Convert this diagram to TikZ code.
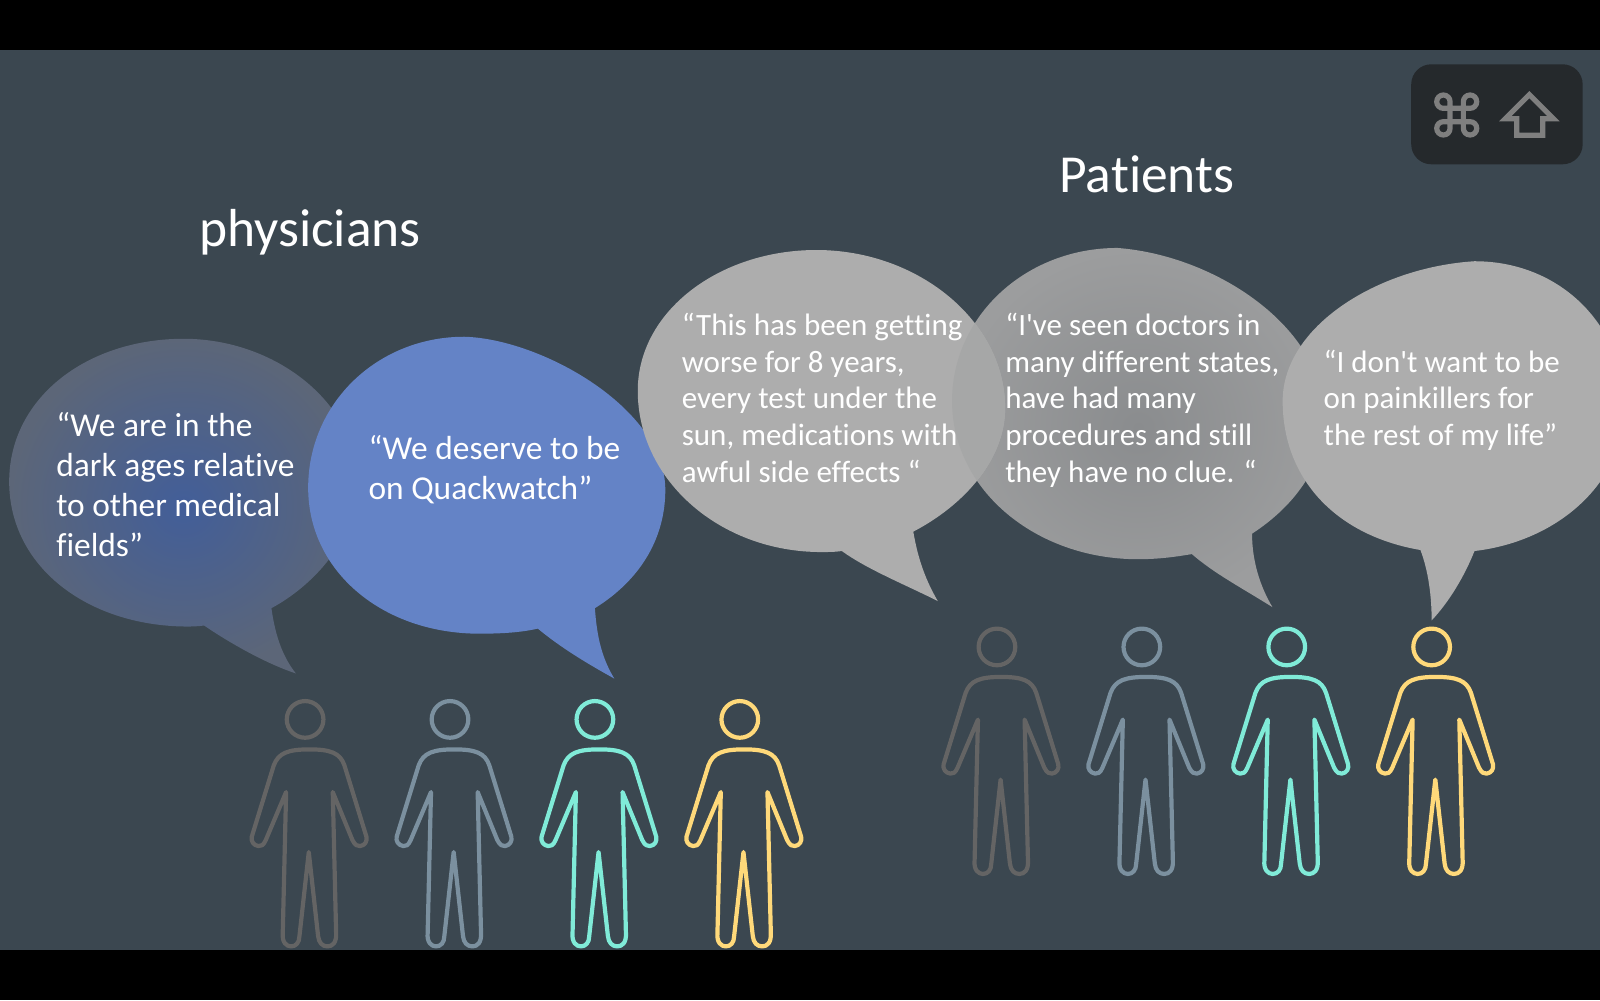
\documentclass[tikz,border=0pt]{standalone}
\usepackage{fontspec}
\newfontfamily\slidefont[Ligatures=NoCommon]{Carlito}
\definecolor{bgc}{HTML}{3B4750}
\definecolor{blueb}{HTML}{6483C6}
\definecolor{greyb}{HTML}{ADADAD}
\definecolor{greyov}{HTML}{A6A7A7}
\definecolor{greyin}{HTML}{8A8C8E}
\definecolor{greyout}{HTML}{9C9D9E}
\definecolor{darkin}{HTML}{425E99}
\definecolor{darkout}{HTML}{5C6678}
\definecolor{iconbox}{HTML}{25292C}
\definecolor{iconfg}{HTML}{7F7F7F}
\definecolor{pgrey}{HTML}{646464}
\definecolor{pslate}{HTML}{7B909F}
\definecolor{paqua}{HTML}{80EBD8}
\definecolor{pyellow}{HTML}{FFD97A}
\tikzset{
  quote/.style={text=white,inner sep=0pt,align=left,anchor=north west},
  bigquote/.style={quote,font=\slidefont\fontsize{33.4}{40}\selectfont},
  smallquote/.style={quote,font=\slidefont\fontsize{31}{36.7}\selectfont},
  heading/.style={text=white,inner sep=0pt,anchor=base west,font=\slidefont\fontsize{53.5}{60}\selectfont},
  personline/.style={line width=4.2pt,line join=round,line cap=round}
}
\newcommand{\personfig}[3]{%
  \begin{scope}[shift={(#1,#2)},x=0.33333pt,y=-0.33333pt]
    \draw[personline,#3] (0,0) circle[radius=55];
    \draw[personline,#3]
      (-57,218) -- (-67,640) .. controls (-70,670) and (-55,681) .. (-42,681)
      .. controls (-28,681) and (-17,670) .. (-17,650)
      -- (11,398) -- (39,650)
      .. controls (41,670) and (52,681) .. (67,681)
      .. controls (82,681) and (95,670) .. (93,640)
      -- (83,218) -- (142,362)
      .. controls (150,378) and (158,381) .. (165,380)
      .. controls (180,378) and (187,365) .. (184,352)
      -- (118,138)
      .. controls (105,100) and (75,90) .. (13,90)
      .. controls (-50,90) and (-80,100) .. (-94,138)
      -- (-160,352)
      .. controls (-163,365) and (-155,378) .. (-140,380)
      .. controls (-132,381) and (-125,378) .. (-118,362)
      -- cycle;
  \end{scope}}
\begin{document}
\begin{tikzpicture}[x=1.020408pt,y=-1.020408pt]
\useasboundingbox (0,0) rectangle (1568,980);
\clip (0,0) rectangle (1568,980);
\fill[black] (0,0) rectangle (1568,980);
\fill[bgc] (0,49) rectangle (1568,931);

% icon panel
\fill[iconbox,rounded corners=20pt] (1383,63) rectangle (1551,161);
\begin{scope}[shift={(1456.7pt,-115pt)},x=1pt,y=1pt]
  \draw[iconfg,line width=5.2pt]
    (-6.67,13.33) arc[start angle=0,end angle=270,radius=6.67pt]
    -- (13.33,6.67) arc[start angle=270,end angle=540,radius=6.67pt]
    -- (6.67,-13.33) arc[start angle=180,end angle=450,radius=6.67pt]
    -- (-13.33,-6.67) arc[start angle=90,end angle=360,radius=6.67pt]
    -- cycle;
\end{scope}
\begin{scope}[shift={(1380pt,-40pt)},x=0.33333pt,y=-0.33333pt]
  \draw[iconfg,line width=5.2pt,miter limit=10]
    (448,164) -- (520,236) -- (488,236) -- (488,286) -- (410,286) -- (410,236) -- (376,236) -- cycle;
\end{scope}

% speech bubble 1
\shade[shading=radial,inner color=darkin,outer color=darkout]
  (266,596) .. controls (270,625) and (278,645) .. (290,660)
  .. controls (260,650) and (225,630) .. (200,613)
  .. controls (192,614) and (188,614) .. (182,614)
  .. controls (85,613) and (9,555) .. (9,472)
  .. controls (9,390) and (85,332) .. (180,332)
  .. controls (270,332) and (350,395) .. (350,472)
  .. controls (350,530) and (305,575) .. (266,596) -- cycle;

% speech bubble 2 (blue)
\fill[blueb]
  (583,596) .. controls (585,625) and (590,645) .. (602,665)
  .. controls (575,650) and (550,635) .. (527,616)
  .. controls (510,620) and (490,621) .. (470,621)
  .. controls (375,621) and (302,560) .. (302,478)
  .. controls (302,395) and (370,330) .. (455,330)
  .. controls (530,332) and (652,400) .. (652,480)
  .. controls (652,530) and (625,570) .. (583,596) -- cycle;

% patient bubbles 1 and 2
\def\bubbleB{
  (1227,523) .. controls (1227,550) and (1235,575) .. (1247,595)
  .. controls (1215,575) and (1190,562) .. (1168,543)
  .. controls (1150,546) and (1135,548) .. (1115,548)
  .. controls (1015,548) and (933,480) .. (933,393)
  .. controls (933,310) and (1005,243) .. (1095,243)
  .. controls (1190,250) and (1298,320) .. (1298,410)
  .. controls (1298,455) and (1270,495) .. (1227,523) -- cycle}
\def\bubbleA{
  (895,521) .. controls (900,550) and (908,570) .. (919,589)
  .. controls (885,572) and (850,558) .. (825,540)
  .. controls (818,541) and (812,541) .. (805,541)
  .. controls (705,541) and (625,470) .. (625,383)
  .. controls (625,305) and (705,245) .. (800,245)
  .. controls (900,245) and (985,315) .. (985,400)
  .. controls (985,450) and (945,495) .. (895,521) -- cycle}
\shade[shading=radial,inner color=greyin,outer color=greyout] \bubbleB;
\fill[greyb] \bubbleA;
\begin{scope}
  \clip \bubbleA;
  \fill[greyov] \bubbleB;
\end{scope}

% patient bubble 3
\fill[greyb]
  (1445,540) .. controls (1435,565) and (1420,590) .. (1403,608)
  .. controls (1403,585) and (1400,560) .. (1392,539)
  .. controls (1310,525) and (1257,470) .. (1257,393)
  .. controls (1257,320) and (1350,262) .. (1445,256)
  .. controls (1530,256) and (1592,320) .. (1592,400)
  .. controls (1592,470) and (1530,530) .. (1445,540) -- cycle;

% headings
\node[heading] (physicians) at (195,241.5) {physicians};
\node[heading] (patients) at (1038,189) {Patients};

% quotes
\node[bigquote] (q1) at (55,403.7) {“We are in the\\dark ages relative\\to other medical\\fields”};
\node[bigquote] (q2) at (361,426.7) {“We deserve to be\\on Quackwatch”};
\node[smallquote] (q3) at (668,306.5) {“This has been getting\\worse for 8 years,\\every test under the\\sun, medications with\\awful side effects “};
\node[smallquote] (q4) at (985,306.5) {“I've seen doctors in\\many different states,\\have had many\\procedures and still\\they have no clue. “};
\node[smallquote] (q5) at (1297,342.5) {“I don't want to be\\on painkillers for\\the rest of my life”};

% people
\personfig{299}{705}{pgrey}
\personfig{441}{705}{pslate}
\personfig{583}{705}{paqua}
\personfig{725}{705}{pyellow}
\personfig{977}{634}{pgrey}
\personfig{1119}{634}{pslate}
\personfig{1261}{634}{paqua}
\personfig{1403}{634}{pyellow}
\end{tikzpicture}
\end{document}
